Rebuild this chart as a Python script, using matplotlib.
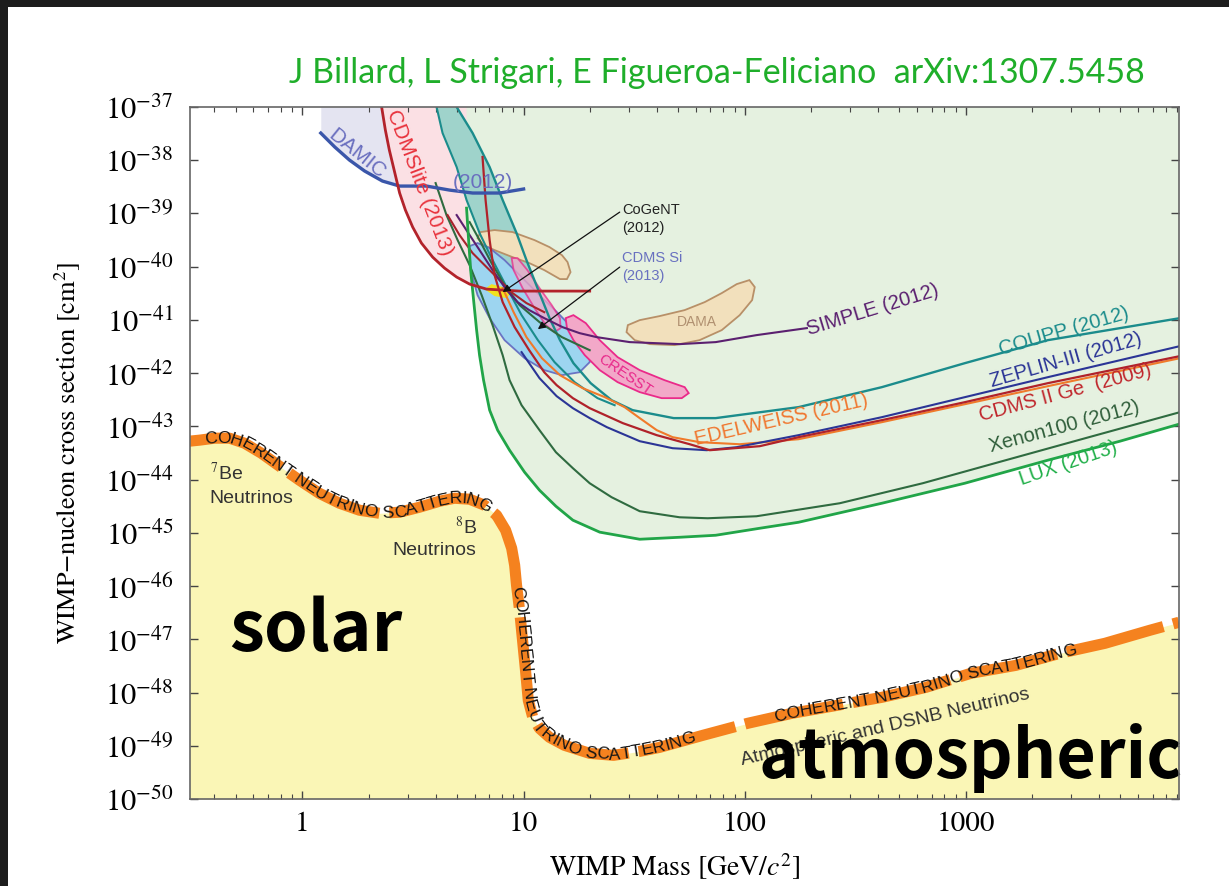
import numpy as np
import matplotlib
matplotlib.use('Agg')
import matplotlib.pyplot as plt
from matplotlib.patches import Rectangle
from matplotlib.ticker import LogLocator, FuncFormatter, NullLocator

plt.rcParams['mathtext.fontset'] = 'stix'

XMIN, XMAX = 0.31, 9200
YMIN, YMAX = 1e-50, 1e-37

# ---- values: WIMP mass [GeV], cross section [cm^2] ----
damic_m = [1.21, 1.40, 1.63, 1.91, 2.30, 2.75, 3.64, 4.62, 5.88, 7.79, 10.0]
damic_s = [3.24e-38, 1.77e-38, 1.01e-38, 6.27e-39, 4.06e-39, 3.27e-39, 3.27e-39,
           2.75e-39, 2.42e-39, 2.42e-39, 2.88e-39]

cdmslite_m = [2.28, 2.37, 2.47, 2.61, 2.75, 2.92, 3.15, 3.45, 3.88, 4.39, 4.98,
              5.70, 6.80, 9.59, 14.6, 19.9]
cdmslite_s = [1.0e-37, 3.70e-38, 1.56e-38, 6.0e-39, 2.42e-39, 1.16e-39, 5.55e-40,
              2.78e-40, 1.51e-40, 9.4e-41, 6.38e-41, 4.71e-41, 3.79e-41, 3.48e-41,
              3.48e-41, 3.48e-41]

lux_m = [5.52, 5.64, 5.76, 5.94, 6.13, 6.32, 6.59, 7.02, 7.63, 8.64, 10.1, 11.8,
         14.0, 16.7, 22.1, 33.5, 50.8, 73.9, 117, 175, 417, 989, 2350, 4977, 9200]
lux_s = [1.26e-39, 3.16e-40, 8.63e-41, 2.36e-41, 6.43e-42, 2.18e-42, 7.38e-43,
         2.02e-43, 8.49e-44, 3.57e-44, 1.38e-44, 6.32e-45, 3.16e-45, 1.73e-45,
         1.03e-45, 7.58e-46, 8.26e-46, 9.01e-46, 1.22e-45, 1.58e-45, 3.60e-45,
         8.55e-45, 2.32e-44, 5.27e-44, 1.10e-43]

xenon100_m = [4.00, 4.48, 5.03, 5.70, 6.46, 7.24, 8.04, 8.64, 9.79, 11.8, 14.0,
              16.7, 19.9, 25.0, 33.5, 50.8, 68.0, 113, 269, 638, 1517, 3603, 9290]
xenon100_s = [3.72e-39, 9.33e-40, 3.16e-40, 1.07e-40, 2.92e-41, 7.98e-42, 2.18e-42,
              7.38e-43, 2.50e-43, 8.49e-44, 3.27e-44, 1.64e-44, 8.55e-45, 4.67e-45,
              2.55e-45, 1.96e-45, 1.88e-45, 2.05e-45, 3.60e-45, 8.55e-45, 2.32e-44,
              6.27e-44, 1.85e-43]

xenon10_m = [5.70, 6.32, 7.16, 8.20, 9.59, 11.8, 14.9, 19.9]
xenon10_s = [6.89e-40, 3.16e-40, 1.17e-40, 4.51e-41, 1.90e-41, 9.09e-42, 4.75e-42,
             2.70e-42]

coupp_m = [4.98, 5.88, 7.02, 8.04, 9.29, 10.3, 11.8, 13.1, 14.6, 16.8, 20.1, 25.0,
           31.1, 47.7, 73.9, 175, 417, 989, 2350, 9290]
coupp_s = [1e-37, 3.24e-38, 7.45e-39, 1.79e-39, 4.28e-40, 1.33e-40, 3.19e-41,
           1.08e-41, 4.17e-42, 1.54e-42, 6.49e-43, 3.10e-43, 2.02e-43, 1.43e-43,
           1.43e-43, 2.30e-43, 5.46e-43, 1.54e-42, 4.17e-42, 1.08e-41]

picasso_m = [4.04, 4.30, 4.98, 5.52, 6.32, 7.24, 8.38, 9.79, 11.6, 13.8, 17.0,
             21.6, 25.8]
picasso_s = [1e-37, 3.24e-38, 7.45e-39, 1.79e-39, 4.28e-40, 1.33e-40, 4.14e-41,
             1.23e-41, 4.17e-42, 1.61e-42, 6.78e-43, 3.39e-43, 2.50e-43]

cdms_ge_m = [6.52, 6.73, 7.02, 7.39, 8.04, 9.11, 10.6, 12.4, 14.1, 16.7, 19.9,
             28.1, 40.0, 56.4, 69.5, 117, 175, 417, 989, 2350, 9290]
cdms_ge_s = [1.15e-38, 1.79e-39, 3.16e-40, 6.95e-41, 2.16e-41, 7.32e-42, 2.70e-42,
             1.04e-42, 5.95e-43, 3.39e-43, 2.20e-43, 1.15e-43, 6.84e-44, 4.62e-44,
             3.57e-44, 4.25e-44, 6.27e-44, 1.31e-43, 2.85e-43, 6.49e-43, 2.09e-42]

cdms_lt_m = [4.53, 5.13, 5.88, 6.80, 7.79, 8.92, 10.3, 12.4]
cdms_lt_s = [9.33e-40, 3.93e-40, 1.80e-40, 9.82e-41, 5.60e-41, 3.19e-41, 2.07e-41,
             1.40e-41]

zeplin_m = [9.79, 11.8, 14.1, 16.7, 19.9, 23.8, 33.5, 47.2, 67.3, 92.0, 175, 417,
            989, 2350, 9290]
zeplin_s = [2.48e-42, 8.05e-43, 3.70e-43, 2.20e-43, 1.43e-43, 9.66e-44, 5.27e-44,
            3.89e-44, 3.57e-44, 4.07e-44, 6.84e-44, 1.49e-43, 3.54e-43, 8.41e-43,
            3.22e-42]

edelweiss_m = [8.04, 9.01, 10.3, 12.1, 14.6, 18.5, 23.3, 28.6, 33.5, 40.0, 47.2,
               62.5, 94.9, 175, 417, 989, 2350, 9290]
edelweiss_s = [3.96e-41, 1.40e-41, 4.75e-42, 1.91e-42, 9.17e-43, 5.22e-43, 3.54e-43,
               2.30e-43, 1.43e-43, 8.49e-44, 6.27e-44, 5.05e-44, 4.62e-44, 5.74e-44,
               1.20e-43, 2.61e-43, 5.70e-43, 1.91e-42]

simple_m = [4.98, 5.70, 6.32, 7.24, 8.38, 9.39, 10.6, 12.4, 15.0, 17.9, 21.4, 30.2,
            50.8, 73.9, 113, 191]
simple_s = [9.33e-40, 3.93e-40, 2.05e-40, 8.63e-41, 3.63e-41, 2.16e-41, 1.53e-41,
            1.08e-41, 7.32e-42, 5.65e-42, 4.75e-42, 3.83e-42, 3.51e-42, 3.83e-42,
            5.18e-42, 7.02e-42]

dama_na_m = [6.19, 6.39, 7.39, 8.92, 11.2, 13.1, 14.9, 15.8, 16.3, 15.7, 14.6,
             12.4, 10.6, 8.92, 7.39, 6.59]
dama_na_s = [3.45e-40, 4.47e-40, 4.88e-40, 4.47e-40, 3.16e-40, 2.33e-40, 1.65e-40,
             1.22e-40, 7.91e-41, 5.85e-41, 5.85e-41, 8.63e-41, 1.17e-40, 1.51e-40,
             2.05e-40, 2.55e-40]

dama_i_m = [29.2, 29.6, 33.5, 41.2, 53.5, 65.9, 78.7, 92.0, 105, 111, 108, 94.9,
            78.7, 62.5, 48.2, 37.2, 31.8]
dama_i_s = [5.90e-42, 7.98e-42, 9.91e-42, 1.18e-41, 1.53e-41, 2.16e-41, 3.19e-41,
            4.71e-41, 5.60e-41, 4.14e-41, 2.36e-41, 1.23e-41, 6.43e-42, 4.17e-42,
            3.36e-42, 3.51e-42, 4.17e-42]

cresst1_m = [8.83, 9.39, 10.4, 11.8, 13.4, 14.6, 14.7, 13.8, 12.6, 11.2, 9.89, 9.01]
cresst1_s = [1.45e-40, 1.45e-40, 8.63e-41, 3.96e-41, 1.90e-41, 1.08e-41, 7.02e-42,
             5.90e-42, 7.98e-42, 1.67e-41, 3.96e-41, 8.63e-41]

cresst2_m = [15.5, 16.8, 19.1, 22.1, 26.6, 33.5, 43.4, 53.5, 55.8, 51.9, 42.1, 33.5,
             26.6, 22.1, 18.9, 16.8, 15.7]
cresst2_s = [1.08e-41, 1.23e-41, 8.71e-42, 4.17e-42, 2.00e-42, 1.14e-42, 7.38e-43,
             5.46e-43, 4.21e-43, 3.39e-43, 3.39e-43, 4.40e-43, 6.78e-43, 1.14e-42,
             2.18e-42, 4.17e-42, 7.02e-42]

cdms_si_m = [5.70, 6.19, 7.02, 8.20, 9.59, 11.8, 14.6, 17.5, 19.9, 19.9, 17.9, 14.9,
             12.4, 10.1, 8.20, 7.02, 6.19, 5.76]
cdms_si_s = [2.44e-40, 2.78e-40, 2.24e-40, 1.33e-40, 6.95e-41, 2.92e-41, 1.23e-41,
             5.65e-42, 2.95e-42, 1.61e-42, 1.04e-42, 9.17e-43, 1.14e-42, 1.91e-42,
             4.17e-42, 1.08e-41, 2.92e-41, 8.63e-41]

cogent_m = [6.66, 7.16, 8.04, 8.73, 8.38, 7.39]
cogent_s = [3.79e-41, 4.71e-41, 4.14e-41, 3.19e-41, 2.57e-41, 2.80e-41]

floor_m = [0.308, 0.342, 0.400, 0.468, 0.547, 0.652, 0.787, 0.969, 1.19, 1.47, 1.81,
           2.23, 2.75, 3.38, 4.17, 4.87, 5.70, 6.66, 7.55, 8.29, 8.83, 9.11, 9.29,
           9.59, 9.89, 10.2, 10.5, 11.0, 11.8, 13.1, 15.3, 19.9, 25.5, 33.5, 41.2,
           64.6, 103, 163, 261, 417, 659, 1054, 1683, 2663, 4256, 6800, 9200]
floor_s = [5.27e-44, 5.51e-44, 6.00e-44, 6.00e-44, 4.83e-44, 3.13e-44, 1.79e-44,
           9.75e-45, 5.55e-45, 3.60e-45, 2.66e-45, 2.33e-45, 2.44e-45, 3.03e-45,
           3.93e-45, 4.47e-45, 4.28e-45, 3.30e-45, 2.14e-45, 1.12e-45, 5.14e-46,
           2.46e-46, 1.04e-46, 3.51e-47, 9.57e-48, 2.61e-48, 7.13e-49, 3.42e-49,
           2.12e-49, 1.44e-49, 1.02e-49, 7.20e-50, 6.61e-50, 7.85e-50, 9.33e-50,
           1.57e-49, 2.64e-49, 4.06e-49, 5.74e-49, 8.13e-49, 1.25e-48, 2.30e-48,
           3.24e-48, 5.46e-48, 8.41e-48, 1.48e-47, 2.09e-47]

FLOOR_TEXT = 'COHERENT NEUTRINO SCATTERING'

# advance widths (em) of the capitals used along the floor
CAP_W = {'A': .667, 'C': .722, 'E': .667, 'G': .778, 'H': .722, 'I': .278,
         'N': .722, 'O': .778, 'R': .722, 'S': .667, 'T': .611, 'U': .722, ' ': .278}


def text_on_curve(ax, xs, ys, start, text, size):
    pts = ax.transData.transform(np.column_stack([xs, ys]))
    arc = np.concatenate([[0], np.cumsum(np.hypot(*np.diff(pts, axis=0).T))])
    p0 = ax.transData.transform([start])[0]
    fine = np.linspace(0, arc[-1], 6000)
    fx = np.interp(fine, arc, pts[:, 0])
    fy = np.interp(fine, arc, pts[:, 1])
    s = fine[np.argmin(np.hypot(fx - p0[0], fy - p0[1]))]
    em = size * ax.figure.dpi / 72
    inv = ax.transData.inverted()
    for ch in text:
        w = CAP_W[ch] * em
        sm = s + w / 2
        x, y = np.interp(sm, arc, pts[:, 0]), np.interp(sm, arc, pts[:, 1])
        xa, ya = np.interp(sm - 6, arc, pts[:, 0]), np.interp(sm - 6, arc, pts[:, 1])
        xb, yb = np.interp(sm + 6, arc, pts[:, 0]), np.interp(sm + 6, arc, pts[:, 1])
        ang = np.degrees(np.arctan2(yb - ya, xb - xa))
        dx, dy = inv.transform((x, y))
        ax.text(dx, dy, ch, rotation=ang, rotation_mode='anchor', ha='center',
                va='center', fontsize=size, family='Liberation Sans',
                color='#151515', zorder=7)
        s += w


def fit_width(txt, target_px):
    r = txt.figure.canvas.get_renderer()
    w = txt.get_window_extent(r).width
    txt.set_fontsize(txt.get_fontsize() * target_px / w)


fig = plt.figure(figsize=(12.29, 8.86), dpi=100)
fig.patch.set_facecolor('#1d1d1d')
fig.add_artist(Rectangle((8 / 1229, 0), 1, 1 - 7 / 886, transform=fig.transFigure,
                         facecolor='white', edgecolor='none', zorder=-10))

ax = fig.add_axes([190 / 1229, 1 - 799 / 886, 989 / 1229, 692 / 886])
ax.set_xscale('log')
ax.set_yscale('log')
ax.set_xlim(XMIN, XMAX)
ax.set_ylim(YMIN, YMAX)

# filled regions
ax.fill_between(floor_m, floor_s, YMIN, color='#faf6b6', lw=0, zorder=1)
ax.fill_between(damic_m, damic_s, YMAX, color='#e4e4f1', lw=0, zorder=1.1)
ax.fill_between(cdmslite_m, cdmslite_s, YMAX, color='#fbe0e4', lw=0, zorder=1.2)
ax.fill([lux_m[0]] + lux_m + [XMAX], [YMAX] + lux_s + [YMAX],
        color='#e5f1e0', lw=0, zorder=1.3)
ax.fill(picasso_m[:7] + coupp_m[:7][::-1], picasso_s[:7] + coupp_s[:7][::-1],
        color='#9fd3cb', lw=0, zorder=1.4)

ax.fill(dama_na_m, dama_na_s, facecolor='#f2e0bc', edgecolor='#b89068', lw=1.3, zorder=2)
ax.fill(dama_i_m, dama_i_s, facecolor='#f2e0bc', edgecolor='#b89068', lw=1.3, zorder=2)
ax.fill(cdms_si_m, cdms_si_s, facecolor='#9dd5f0', edgecolor='#6a74c4', lw=1.3, zorder=2)
ax.fill(cresst1_m, cresst1_s, facecolor='#f2a8c8', edgecolor='#ea2a8a', lw=1.3,
        alpha=0.75, zorder=2.1)
ax.fill(cresst2_m, cresst2_s, facecolor='#f2a8c8', edgecolor='#ea2a8a', lw=1.3, zorder=2.1)
ax.fill(cogent_m, cogent_s, color='#f2e21e', lw=0, zorder=2.2)

# limit curves
ax.plot(picasso_m, picasso_s, color='#1b8c8c', lw=1.5, zorder=3)
ax.plot(coupp_m, coupp_s, color='#1b8c8c', lw=1.7, zorder=3)
ax.plot(xenon10_m, xenon10_s, color='#2f6b40', lw=1.5, zorder=3)
ax.plot(xenon100_m, xenon100_s, color='#2f6b40', lw=1.5, zorder=3)
ax.plot(edelweiss_m, edelweiss_s, color='#f07a2a', lw=1.5, zorder=3)
ax.plot(zeplin_m, zeplin_s, color='#2b3596', lw=1.5, zorder=3.1)
ax.plot(cdms_ge_m, cdms_ge_s, color='#b0222a', lw=1.6, zorder=3.1)
ax.plot(cdms_lt_m, cdms_lt_s, color='#a8232b', lw=1.5, zorder=3)
ax.plot(simple_m, simple_s, color='#5b2070', lw=1.5, zorder=3)
ax.plot(lux_m, lux_s, color='#21a548', lw=2.0, zorder=3.2)
ax.plot(damic_m, damic_s, color='#3a56aa', lw=2.4, zorder=3.5)
ax.plot(cdmslite_m, cdmslite_s, color='#b3232b', lw=2.0, zorder=3.5)

# neutrino floor band with text
ax.plot(floor_m, floor_s, color='#f5821f', lw=8, linestyle=(0, (9, 0.9)),
        dash_capstyle='butt', zorder=5)
text_on_curve(ax, floor_m, floor_s, (0.36, 5.8e-44), FLOOR_TEXT, 12.5)
text_on_curve(ax, floor_m, floor_s, (9.29, 1.0e-46), FLOOR_TEXT, 12.5)
text_on_curve(ax, floor_m, floor_s, (137, 3.1e-49), FLOOR_TEXT, 12.5)

# labels
lab = dict(family='Liberation Sans', rotation_mode='anchor', ha='center',
           va='center', zorder=8)
ax.text(1.77, 1.31e-38, 'DAMIC', color='#6a6fbf', fontsize=15, rotation=-39, **lab)
ax.text(6.52, 3.89e-39, '(2012)', color='#6a6fbf', fontsize=15, **lab)
ax.text(3.38, 3.72e-39, 'CDMSlite (2013)', color='#e8323c', fontsize=15, rotation=-69, **lab)
ax.text(60.7, 9.09e-42, 'DAMA', color='#b09070', fontsize=10, **lab)
ax.text(28.9, 9.17e-43, 'CRESST', color='#e8288a', fontsize=11, rotation=-34, **lab)
ax.text(379, 1.53e-41, 'SIMPLE (2012)', color='#5b2070', fontsize=14.5, rotation=17, **lab)
ax.text(2775, 6.16e-42, 'COUPP (2012)', color='#1b8c8c', fontsize=14.5, rotation=16, **lab)
ax.text(2834, 1.75e-42, 'ZEPLIN-III (2012)', color='#2b3596', fontsize=14.5, rotation=16, **lab)
ax.text(2805, 4.21e-43, 'CDMS II Ge  (2009)', color='#c0282d', fontsize=14.5, rotation=15, **lab)
ax.text(2775, 9.66e-44, 'Xenon100 (2012)', color='#2f5e3a', fontsize=14.5, rotation=15, **lab)
ax.text(2896, 2.03e-44, 'LUX (2013)', color='#22b04a', fontsize=14.5, rotation=19, **lab)
ax.text(147, 1.31e-43, 'EDELWEISS (2011)', color='#f07830', fontsize=14.5, rotation=13, **lab)

ax.text(27.8, 7.85e-40, 'CoGeNT\n(2012)', color='#222222', fontsize=10.5,
        family='Liberation Sans', ha='left', va='center', linespacing=1.3, zorder=8)
ax.text(27.8, 9.82e-41, 'CDMS Si\n(2013)', color='#6870c0', fontsize=10.5,
        family='Liberation Sans', ha='left', va='center', linespacing=1.3, zorder=8)
arrow = dict(arrowstyle='-|>', color='#111111', lw=0.9, mutation_scale=11,
             shrinkA=0, shrinkB=0)
ax.annotate('', xy=(8.04, 3.33e-41), xytext=(27.2, 1.06e-39), arrowprops=arrow, zorder=8)
ax.annotate('', xy=(11.6, 6.71e-42), xytext=(27.2, 9.82e-41), arrowprops=arrow, zorder=8)

nu = dict(family='Liberation Sans', color='#333333', fontsize=14, zorder=8)
ax.text(0.380, 1.32e-44, '$^7$Be', ha='left', va='center', **nu)
ax.text(0.380, 4.47e-45, 'Neutrinos', ha='left', va='center', **nu)
ax.text(6.13, 1.27e-45, '$^8$B', ha='right', va='center', **nu)
ax.text(6.13, 4.71e-46, 'Neutrinos', ha='right', va='center', **nu)
ax.text(430, 2.22e-49, 'Atmospheric and DSNB Neutrinos', ha='center', va='center',
        rotation=13, rotation_mode='anchor', **nu)

big = ['Liberation Sans Narrow', 'Noto Sans CJK JP', 'DejaVu Sans']
t_solar = ax.text(0.468, 5.95e-48, 'solar', family=big, fontweight='bold', fontsize=54,
                  color='black', ha='left', va='baseline', zorder=9)
t_atm = ax.text(115, 2.44e-50, 'atmospheric', family=big, fontweight='bold', fontsize=52,
                color='black', ha='left', va='baseline', zorder=9, clip_on=False)

# axes styling
for sp in ax.spines.values():
    sp.set_color('#666666')
    sp.set_linewidth(1.2)
    sp.set_zorder(10)
ax.yaxis.set_major_locator(LogLocator(base=10, numticks=20))
ax.yaxis.set_minor_locator(NullLocator())
ax.xaxis.set_major_locator(LogLocator(base=10, numticks=10))
ax.xaxis.set_minor_locator(LogLocator(base=10, subs=np.arange(2, 10), numticks=20))
ax.yaxis.set_major_formatter(FuncFormatter(lambda v, p: r'$10^{%d}$' % round(np.log10(v))))
ax.xaxis.set_major_formatter(FuncFormatter(lambda v, p: '%d' % round(v)))
ax.xaxis.set_minor_formatter(FuncFormatter(lambda v, p: ''))
ax.tick_params(which='both', direction='in', top=True, right=True, color='#444444')
ax.tick_params(which='major', length=6, width=1)
ax.tick_params(which='minor', length=3.5, width=0.8)
ax.tick_params(axis='y', labelsize=22, pad=12)
ax.tick_params(axis='x', labelsize=21, pad=9, labelfontfamily='STIXGeneral')

ax.set_xlabel('WIMP Mass [GeV/$c^2$]', family='STIXGeneral', fontsize=20)
ax.set_ylabel('WIMP\u2212nucleon cross section [cm$^2$]', family='STIXGeneral', fontsize=19)
ax.xaxis.set_label_coords(0.49, -0.076)
ax.yaxis.set_label_coords(-0.108, 0.5)

t_title = fig.text(0.583, 0.918,
                   'J Billard, L Strigari, E Figueroa-Feliciano  arXiv:1307.5458',
                   ha='center', va='center', color='#1fae2a', fontsize=22, family='Lato')

fit_width(t_solar, 173)
fit_width(t_atm, 424)
fit_width(t_title, 853)

fig.savefig('out.png', dpi=100, facecolor=fig.get_facecolor())
